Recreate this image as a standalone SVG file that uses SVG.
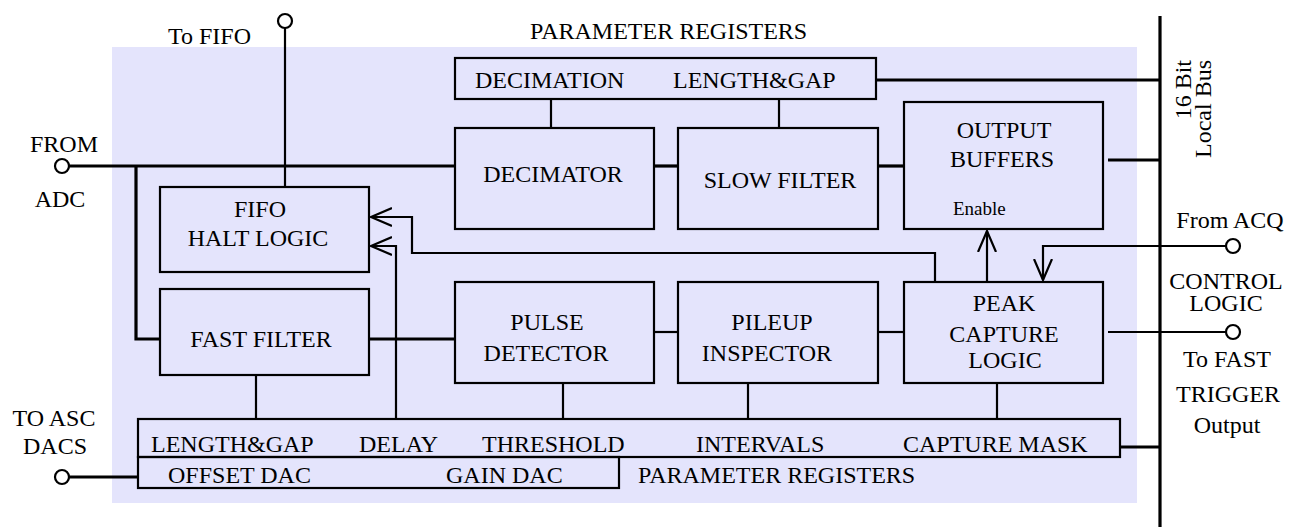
<svg xmlns="http://www.w3.org/2000/svg" width="1294" height="527" viewBox="0 0 1294 527">
<style>
text{font-family:"Liberation Serif","Times New Roman",serif;font-size:24px;fill:#000}
.sm{font-size:19px}
.mid{text-anchor:middle}
.box{fill:none;stroke:#000;stroke-width:2.2}
.thick{fill:none;stroke:#000;stroke-width:3.2}
.thin{fill:none;stroke:#000;stroke-width:2.2}
.term{fill:#fff;stroke:#000;stroke-width:2.2}
</style>
<defs>
<marker id="arr" viewBox="0 0 22 20" refX="21" refY="10" markerWidth="22" markerHeight="20" markerUnits="userSpaceOnUse" orient="auto">
<path d="M0,1 L21,10 L0,19" fill="none" stroke="#000" stroke-width="2.2"/>
</marker>
</defs>
<rect x="112" y="47" width="1025" height="456" fill="#e4e4fc"/>

<g id="connectors">
<line class="thick" x1="1160" y1="16" x2="1160" y2="527"/>
<line class="thick" x1="69" y1="166" x2="455" y2="166"/>
<polyline class="thick" points="136,166 136,339 160,339"/>
<line class="thin" x1="285" y1="28" x2="285" y2="188"/>
<line class="thick" x1="876" y1="80" x2="1160" y2="80"/>
<line class="thin" x1="551" y1="99" x2="551" y2="128"/>
<line class="thin" x1="779" y1="99" x2="779" y2="128"/>
<line class="thick" x1="654" y1="166" x2="678" y2="166"/>
<line class="thick" x1="878" y1="166" x2="904" y2="166"/>
<line class="thick" x1="1108" y1="160" x2="1160" y2="160"/>
<polyline class="thin" points="935,282 935,253 412,253 412,217 371,217" marker-end="url(#arr)"/>
<polyline class="thin" points="396,420 396,246 371,246" marker-end="url(#arr)"/>
<line class="thin" x1="987" y1="282" x2="987" y2="231" marker-end="url(#arr)"/>
<polyline class="thin" points="1226,246 1043,246 1043,280" marker-end="url(#arr)"/>
<line class="thick" x1="369" y1="339" x2="455" y2="339"/>
<line class="thin" x1="256" y1="375" x2="256" y2="419"/>
<line class="thin" x1="654" y1="332" x2="678" y2="332"/>
<line class="thin" x1="878" y1="332" x2="904" y2="332"/>
<line class="thin" x1="563" y1="383" x2="563" y2="419"/>
<line class="thin" x1="748" y1="383" x2="748" y2="419"/>
<line class="thin" x1="997" y1="383" x2="997" y2="419"/>
<line class="thin" x1="1108" y1="332" x2="1226" y2="332"/>
<line class="thick" x1="1120" y1="447" x2="1160" y2="447"/>
<line class="thick" x1="69" y1="477" x2="138" y2="477"/>
</g>

<g id="terminals">
<circle class="term" cx="285" cy="21" r="7"/>
<circle class="term" cx="62" cy="166" r="7"/>
<circle class="term" cx="1233" cy="246" r="7"/>
<circle class="term" cx="1233" cy="332" r="7"/>
<circle class="term" cx="62" cy="477" r="7"/>
</g>

<g id="labels">
<text x="168" y="44">To FIFO</text>
<text x="530" y="39">PARAMETER REGISTERS</text>
<text class="mid" x="64" y="152">FROM</text>
<text class="mid" x="60" y="207">ADC</text>
<text class="mid" x="1230" y="228">From ACQ</text>
<text class="mid" x="1226" y="289">CONTROL</text>
<text class="mid" x="1226" y="311">LOGIC</text>
<text class="mid" x="1227" y="367">To FAST</text>
<text class="mid" x="1228" y="402">TRIGGER</text>
<text class="mid" x="1227" y="433">Output</text>
<text class="mid" x="54" y="426">TO ASC</text>
<text class="mid" x="55" y="454">DACS</text>
<text transform="translate(1191,60) rotate(-90)" text-anchor="end">16 Bit</text>
<text transform="translate(1211,60) rotate(-90)" text-anchor="end">Local Bus</text>
</g>

<g id="param-top">
<rect class="box" x="455" y="58" width="421" height="41"/>
<text x="475" y="88">DECIMATION</text>
<text x="673" y="88">LENGTH&amp;GAP</text>
</g>

<g id="decimator">
<rect class="box" x="455" y="128" width="199" height="101"/>
<text class="mid" x="553" y="182">DECIMATOR</text>
</g>

<g id="slow-filter">
<rect class="box" x="678" y="128" width="200" height="101"/>
<text class="mid" x="780" y="188">SLOW FILTER</text>
</g>

<g id="output-buffers">
<rect class="box" x="904" y="102" width="199" height="127"/>
<text class="mid" x="1004" y="138">OUTPUT</text>
<text class="mid" x="1002" y="167">BUFFERS</text>
<text class="sm" x="953" y="215">Enable</text>
</g>

<g id="fifo-halt">
<rect class="box" x="160" y="187" width="209" height="85"/>
<text class="mid" x="260" y="217">FIFO</text>
<text class="mid" x="258" y="246">HALT LOGIC</text>
</g>

<g id="fast-filter">
<rect class="box" x="160" y="289" width="209" height="86"/>
<text class="mid" x="261" y="347">FAST FILTER</text>
</g>

<g id="pulse-detector">
<rect class="box" x="455" y="282" width="199" height="101"/>
<text class="mid" x="547" y="330">PULSE</text>
<text class="mid" x="546" y="361">DETECTOR</text>
</g>

<g id="pileup-inspector">
<rect class="box" x="678" y="282" width="200" height="101"/>
<text class="mid" x="772" y="330">PILEUP</text>
<text class="mid" x="767" y="361">INSPECTOR</text>
</g>

<g id="peak-capture">
<rect class="box" x="904" y="282" width="199" height="101"/>
<text class="mid" x="1004" y="311">PEAK</text>
<text class="mid" x="1004" y="342">CAPTURE</text>
<text class="mid" x="1005" y="368">LOGIC</text>
</g>

<g id="param-bottom">
<rect class="box" x="138" y="419" width="982" height="38"/>
<text x="151" y="452">LENGTH&amp;GAP</text>
<text x="359" y="452">DELAY</text>
<text x="482" y="452">THRESHOLD</text>
<text x="696" y="452">INTERVALS</text>
<text x="903" y="452">CAPTURE MASK</text>
</g>

<g id="dac-registers">
<rect class="box" x="138" y="457" width="481" height="31"/>
<text x="168" y="483">OFFSET DAC</text>
<text x="446" y="483">GAIN DAC</text>
<text x="638" y="483">PARAMETER REGISTERS</text>
</g>
</svg>
